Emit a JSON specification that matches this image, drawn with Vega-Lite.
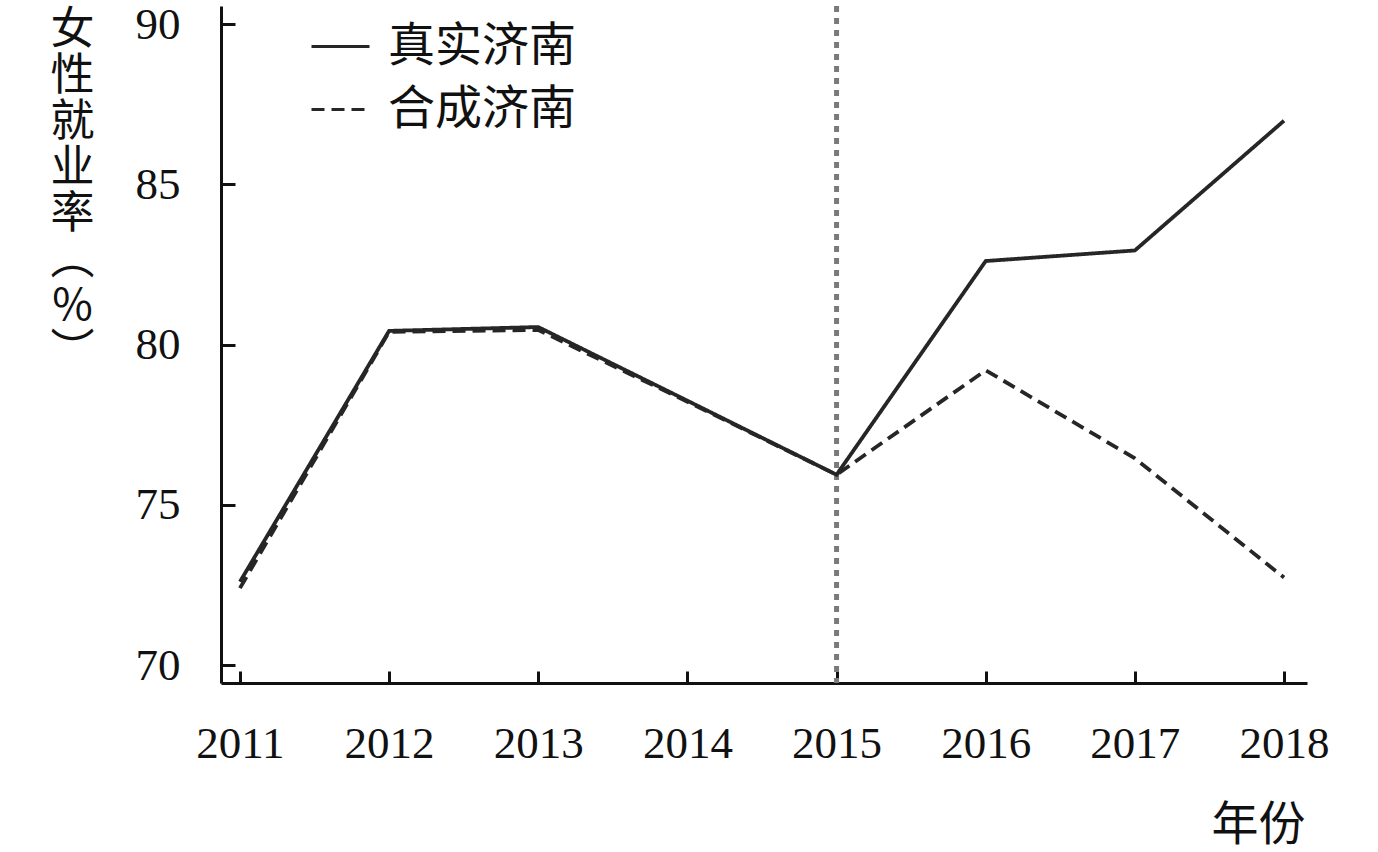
{
  "$schema": "https://vega.github.io/schema/vega-lite/v6.json",
  "width": 1086,
  "height": 677,
  "autosize": {"type": "none"},
  "padding": {"left": 221, "top": 6, "right": 71, "bottom": 169},
  "background": "white",
  "config": {"view": {"stroke": null}, "font": "Liberation Serif"},
  "datasets": {
    "series": [
      {"year": 2011, "value": 72.6, "series": "真实济南"},
      {"year": 2012, "value": 80.43, "series": "真实济南"},
      {"year": 2013, "value": 80.55, "series": "真实济南"},
      {"year": 2014, "value": 78.25, "series": "真实济南"},
      {"year": 2015, "value": 75.94, "series": "真实济南"},
      {"year": 2016, "value": 82.61, "series": "真实济南"},
      {"year": 2017, "value": 82.94, "series": "真实济南"},
      {"year": 2018, "value": 86.99, "series": "真实济南"},
      {"year": 2011, "value": 72.4, "series": "合成济南"},
      {"year": 2012, "value": 80.4, "series": "合成济南"},
      {"year": 2013, "value": 80.46, "series": "合成济南"},
      {"year": 2014, "value": 78.22, "series": "合成济南"},
      {"year": 2015, "value": 75.94, "series": "合成济南"},
      {"year": 2016, "value": 79.2, "series": "合成济南"},
      {"year": 2017, "value": 76.45, "series": "合成济南"},
      {"year": 2018, "value": 72.73, "series": "合成济南"}
    ],
    "cut": [{"year": 2015}]
  },
  "layer": [
    {
      "data": {"name": "cut"},
      "mark": {"type": "rule", "color": "#7a7a7a", "strokeWidth": 5, "strokeDash": [6, 6]},
      "encoding": {
        "x": {"field": "year", "type": "quantitative"}
      }
    },
    {
      "data": {"name": "series"},
      "mark": {"type": "line", "strokeWidth": 3.8, "color": "#262626"},
      "encoding": {
        "x": {
          "field": "year",
          "type": "quantitative",
          "scale": {"domain": [2010.873, 2018.154], "nice": false, "zero": false},
          "axis": {
            "values": [2011, 2012, 2013, 2014, 2015, 2016, 2017, 2018],
            "format": "d",
            "grid": false,
            "labelFont": "Liberation Serif",
            "labelFontSize": 45,
            "labelColor": "#111",
            "labelBaseline": "alphabetic",
            "labelPadding": 86,
            "labelFlush": false,
            "tickSize": -12,
            "tickWidth": 3,
            "tickColor": "#111",
            "domainColor": "#111",
            "domainWidth": 3,
            "title": "年份",
            "titleFont": "Noto Sans CJK SC",
            "titleFontSize": 47,
            "titleFontWeight": "normal",
            "titleColor": "#111",
            "titleAlign": "right",
            "titleBaseline": "top",
            "titleX": 1084,
            "titleY": 119
          }
        },
        "y": {
          "field": "value",
          "type": "quantitative",
          "scale": {"domain": [69.44, 90.57], "nice": false, "zero": false},
          "axis": {
            "values": [70, 75, 80, 85, 90],
            "grid": false,
            "labelFont": "Liberation Serif",
            "labelFontSize": 45,
            "labelColor": "#111",
            "labelPadding": 55,
            "labelFlush": false,
            "tickSize": -14,
            "tickWidth": 3,
            "tickColor": "#111",
            "domainColor": "#111",
            "domainWidth": 3,
            "title": ["女", "性", "就", "业", "率", "︵", "%", "︶"],
            "titleFont": "Noto Sans CJK SC",
            "titleFontSize": 44,
            "titleFontWeight": "normal",
            "titleColor": "#111",
            "titleAngle": 0,
            "titleAlign": "center",
            "titleBaseline": "top",
            "titleLineHeight": 46,
            "titleX": -149,
            "titleY": 2
          }
        },
        "strokeDash": {
          "field": "series",
          "type": "nominal",
          "scale": {"domain": ["真实济南", "合成济南"], "range": [[1, 0], [13, 7]]},
          "legend": {
            "orient": "none",
            "legendX": 89,
            "legendY": 10,
            "title": null,
            "symbolType": "stroke",
            "symbolSize": 3364,
            "symbolStrokeWidth": 3,
            "symbolStrokeColor": "#262626",
            "labelFont": "Noto Sans CJK SC",
            "labelFontSize": 47,
            "labelColor": "#111",
            "labelOffset": 17,
            "labelLimit": 500,
            "rowPadding": 9,
            "padding": 0
          }
        }
      }
    }
  ]
}
